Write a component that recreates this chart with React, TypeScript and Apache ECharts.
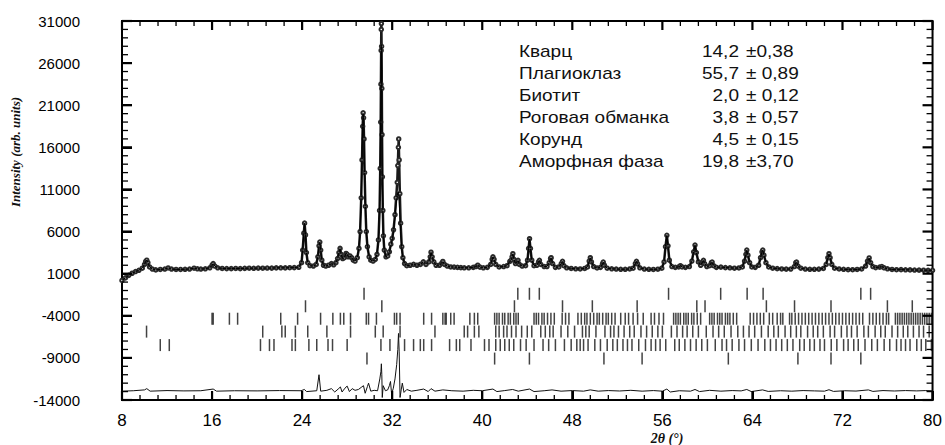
import React, { useEffect, useRef } from "react";
import * as echarts from "echarts";

// ---------- data ----------
const xTicks = [8, 16, 24, 32, 40, 48, 56, 64, 72, 80];
const yTicks = [-14000, -9000, -4000, 1000, 6000, 11000, 16000, 21000, 26000, 31000];

// observed intensity [2theta, counts]
const observed: [number, number][] = [
  [8.0, 200], [8.3, 500], [8.6, 800], [8.9, 1050], [9.2, 1250], [9.5, 1400], [9.8, 1650], [10.0, 2100], [10.1, 2450], [10.2, 2600], [10.3, 2300], [10.45, 1800],
  [10.7, 1550], [11.0, 1450], [11.4, 1500], [11.8, 1550], [12.1, 1680], [12.4, 1550], [12.8, 1500], [13.2, 1500], [13.6, 1520], [14.0, 1550], [14.4, 1650], [14.7, 1580],
  [15.0, 1550], [15.4, 1580], [15.8, 1700], [16.0, 2000], [16.1, 2200], [16.25, 1900], [16.5, 1700], [16.9, 1620], [17.3, 1600], [17.7, 1600], [18.1, 1620], [18.5, 1600],
  [18.9, 1630], [19.3, 1650], [19.7, 1640], [20.1, 1660], [20.5, 1650], [20.9, 1670], [21.3, 1660], [21.7, 1690], [22.1, 1700], [22.5, 1690], [22.9, 1710], [23.3, 1720],
  [23.7, 1760], [23.95, 2300], [24.05, 3800], [24.15, 5800], [24.22, 7000], [24.3, 5600], [24.38, 3500], [24.5, 2300], [24.7, 1950], [25.0, 1900], [25.25, 2100], [25.4, 3000],
  [25.5, 4300], [25.57, 4750], [25.65, 3800], [25.75, 2600], [25.9, 2000], [26.1, 1900], [26.35, 2000], [26.6, 2200], [26.8, 2050], [27.0, 2300], [27.15, 2800], [27.27, 3500],
  [27.37, 4000], [27.47, 3300], [27.6, 2800], [27.75, 2900], [27.9, 3400], [28.0, 3300], [28.1, 3000], [28.25, 3100], [28.4, 2900], [28.55, 2600], [28.7, 2500],
  [28.9, 2900], [29.05, 4000], [29.15, 6000], [29.25, 10000], [29.32, 14500], [29.38, 18500], [29.42, 20100], [29.46, 19500], [29.5, 17000], [29.55, 13000], [29.62, 9000],
  [29.7, 6000], [29.8, 4200], [29.95, 3000], [30.1, 2600], [30.3, 2500], [30.5, 2700], [30.65, 3300], [30.78, 5000], [30.88, 8500], [30.94, 13500], [30.98, 19000],
  [31.0, 23500], [31.02, 27500], [31.03, 30000], [31.04, 30700], [31.06, 28000], [31.08, 23000], [31.1, 17500], [31.13, 12500], [31.17, 8500], [31.22, 5500], [31.3, 3800],
  [31.45, 3000], [31.6, 3100], [31.75, 3600], [31.88, 4500], [32.0, 5200], [32.12, 6200], [32.25, 8000], [32.35, 10000], [32.45, 11850], [32.5, 13830], [32.55, 16000],
  [32.58, 17000], [32.62, 14500], [32.68, 10500], [32.75, 7000], [32.85, 4200], [32.95, 2900], [33.1, 2200],
  [33.3, 1950], [33.6, 2000], [33.9, 2100], [34.2, 2000], [34.5, 2100], [34.77, 2400], [35.0, 2100], [35.25, 2400], [35.38, 3000], [35.45, 3550], [35.55, 3000], [35.7, 2400],
  [35.9, 2000], [36.2, 2000], [36.4, 2250], [36.5, 2450], [36.65, 2100], [36.9, 1900], [37.2, 1800], [37.5, 1780], [37.8, 1750], [38.1, 1720], [38.4, 1700], [38.8, 1700],
  [39.2, 1750], [39.45, 1850], [39.6, 2000], [39.8, 1780], [40.1, 1700], [40.45, 1750], [40.75, 2100], [40.88, 2700], [40.95, 3000], [41.05, 2700], [41.2, 2100],
  [41.5, 1800], [41.9, 1850], [42.2, 1950], [42.45, 2450], [42.57, 2600], [42.65, 3000], [42.72, 3370], [42.82, 2700], [42.95, 2200], [43.1, 2450], [43.18, 2580],
  [43.3, 2100], [43.55, 1900], [43.85, 1950], [44.02, 2600], [44.12, 4000], [44.2, 5150], [44.28, 4000], [44.4, 2600], [44.6, 1950], [44.85, 2000], [45.0, 2400],
  [45.08, 2580], [45.2, 2100], [45.5, 1850], [45.75, 1850], [45.95, 2300], [46.07, 2800], [46.12, 2900], [46.25, 2200], [46.5, 1750], [46.8, 1800], [47.02, 2200],
  [47.13, 2460], [47.25, 1950], [47.5, 1700], [47.9, 1620], [48.3, 1580], [48.7, 1560], [49.1, 1620], [49.35, 1800], [49.5, 2500], [49.6, 2900], [49.7, 2400], [49.9, 1850],
  [50.2, 1680], [50.5, 1750], [50.68, 2150], [50.75, 2380], [50.85, 2000], [51.1, 1650], [51.5, 1580], [51.9, 1550], [52.3, 1520], [52.7, 1520], [53.1, 1560], [53.4, 1650],
  [53.6, 2200], [53.7, 2460], [53.8, 2150], [54.0, 1700], [54.4, 1550], [54.8, 1520], [55.2, 1500], [55.6, 1530], [55.95, 1650], [56.15, 2400], [56.28, 4200], [56.4, 5560],
  [56.5, 4300], [56.62, 2600], [56.85, 1850], [57.15, 1750], [57.45, 1800], [57.6, 1950], [57.75, 1800], [58.05, 1750], [58.4, 1850], [58.62, 2500], [58.78, 3600],
  [58.9, 4400], [59.02, 3500], [59.2, 2400], [59.4, 2000], [59.58, 2400], [59.65, 2580], [59.75, 2200], [59.95, 1850], [60.2, 1950], [60.35, 2300], [60.42, 2380],
  [60.55, 1950], [60.8, 1750], [61.2, 1780], [61.6, 1720], [62.0, 1700], [62.4, 1650], [62.8, 1680], [63.1, 1800], [63.3, 2500], [63.42, 3300], [63.5, 3800], [63.6, 3200],
  [63.75, 2300], [63.95, 1800], [64.25, 1750], [64.55, 2000], [64.72, 2900], [64.85, 3600], [64.92, 3800], [65.02, 3200], [65.2, 2300], [65.45, 1800], [65.8, 1650],
  [66.2, 1600], [66.6, 1560], [67.0, 1540], [67.4, 1550], [67.72, 1850], [67.85, 2300], [67.92, 2380], [68.05, 1900], [68.3, 1650], [68.7, 1550], [69.1, 1520],
  [69.5, 1520], [69.9, 1540], [70.3, 1620], [70.55, 2100], [70.7, 2900], [70.8, 3370], [70.9, 2900], [71.05, 2100], [71.3, 1650], [71.7, 1560], [72.1, 1520],
  [72.5, 1480], [72.9, 1470], [73.3, 1500], [73.7, 1560], [74.05, 1900], [74.22, 2500], [74.37, 2860], [74.5, 2300], [74.7, 1850], [74.95, 1720], [75.3, 1780],
  [75.5, 1850], [75.7, 1700], [76.0, 1580], [76.4, 1500], [76.8, 1470], [77.2, 1480], [77.6, 1460], [78.0, 1450], [78.4, 1430], [78.8, 1420], [79.2, 1410],
  [79.6, 1400], [80.0, 1400],
];

// calculated profile where it departs from the observed points (main peaks)
const calculatedPeaks: [number, number][] = [
  [28.9, 2950], [29.05, 4100], [29.15, 6100], [29.25, 10300], [29.32, 14500], [29.38, 18800], [29.42, 20000], [29.46, 19300], [29.5, 16800], [29.55, 13000],
  [29.62, 9000], [29.7, 6100], [29.8, 4300], [29.95, 3100], [30.1, 2600], [30.3, 2500], [30.5, 2700], [30.65, 3300], [30.78, 5200], [30.88, 9000], [30.94, 14500],
  [30.98, 20000], [31.0, 24000], [31.02, 27000], [31.03, 28200], [31.04, 27800], [31.06, 25000], [31.08, 21000], [31.1, 16500], [31.13, 12000], [31.17, 8000],
  [31.22, 5300], [31.3, 3800], [31.45, 3000], [31.6, 3100], [31.75, 3500], [31.88, 4300], [32.0, 5000], [32.12, 6000], [32.25, 7800], [32.35, 9300], [32.45, 10300],
  [32.5, 10600], [32.55, 10700], [32.58, 10500], [32.62, 9600], [32.68, 8000], [32.75, 6000], [32.85, 4000], [32.95, 2900], [33.1, 2200],
];

// difference curve (obs - calc, offset)
const difference: [number, number][] = [
  [8.0, -12950], [9.0, -12900], [10.0, -12800], [10.2, -12650], [10.5, -12950], [12.0, -12880], [13.5, -12920], [15.0, -12900], [16.1, -12700], [16.4, -12950],
  [18.0, -12900], [20.0, -12920], [22.0, -12880], [23.9, -12900], [24.2, -12750], [24.4, -13000], [25.3, -12900], [25.5, -11000], [25.65, -12950], [26.2, -12850],
  [26.6, -12650], [26.9, -13050], [27.2, -12700], [27.4, -12450], [27.55, -13050], [27.8, -12600], [28.0, -12350], [28.2, -13000], [28.45, -12650], [28.7, -12850],
  [29.0, -12750], [29.3, -12450], [29.45, -12300], [29.6, -13200], [29.8, -12400], [29.9, -12000], [30.1, -12950], [30.4, -12850], [30.7, -12900], [30.9, -11500],
  [31.0, -10600], [31.04, -9700], [31.08, -11000], [31.12, -13700], [31.2, -12300], [31.4, -12900], [31.6, -12800], [31.75, -12300], [31.85, -11800], [31.95, -13300],
  [32.1, -12600], [32.25, -11500], [32.4, -9800], [32.5, -8000], [32.56, -6100], [32.62, -8200], [32.7, -13700], [32.8, -12800], [32.9, -12000], [33.05, -13100],
  [33.3, -12750], [33.7, -12950], [34.2, -12850], [34.8, -12700], [35.2, -13000], [35.45, -12650], [35.8, -12950], [36.5, -12800], [37.3, -12900], [38.3, -12950],
  [39.2, -12850], [40.0, -12900], [40.95, -12700], [41.3, -13000], [42.0, -12880], [42.7, -12750], [43.2, -12950], [44.2, -12700], [44.6, -13000], [45.5, -12900],
  [46.2, -12800], [47.0, -12950], [48.0, -12880], [49.0, -12950], [49.6, -12800], [50.3, -12950], [51.2, -12880], [52.2, -12930], [53.2, -12850], [54.2, -12950],
  [55.2, -12880], [56.0, -12950], [56.4, -12700], [56.7, -13050], [57.5, -12900], [58.5, -12950], [58.9, -12750], [59.3, -13000], [60.2, -12850], [61.2, -12950],
  [62.2, -12880], [63.0, -12920], [63.5, -12750], [63.9, -13000], [64.9, -12800], [65.4, -12980], [66.5, -12900], [67.5, -12950], [68.5, -12880], [69.5, -12920],
  [70.4, -12950], [70.8, -12780], [71.2, -12980], [72.2, -12900], [73.2, -12940], [74.3, -12800], [74.7, -12980], [75.6, -12880], [76.6, -12930], [77.6, -12880],
  [78.6, -12920], [79.4, -12880], [80.0, -12900],
];

// Bragg reflection positions, one list per row (top to bottom)
const braggRow1 = [29.5, 43.16, 44.19, 45.07, 56.55, 61.18, 63.53, 64.95, 73.63, 74.5];
const braggRow2 = [24.3, 31.08, 42.86, 47.13, 49.78, 53.76, 59.06, 59.79, 65.24, 67.74, 70.98, 75.99, 78.2];
const braggRow3 = [
  16.0, 16.1, 17.54, 18.27, 22.1, 23.6, 25.64, 26.73, 27.4, 27.7, 28.3, 29.7, 29.9, 30.6, 32.2, 32.4, 32.7, 34.8, 35.5, 36.5, 36.7, 36.8, 37.2, 37.5,
  38.9, 39.3, 39.6, 41.1, 41.3, 41.5, 41.8, 42.0, 42.3, 42.5, 42.8, 43.0, 43.2, 44.6, 44.8, 45.0, 45.3, 45.5, 45.8, 46.1, 46.4, 47.1, 47.4, 47.7,
  48.5, 48.8, 49.1, 49.3, 49.6, 49.9, 50.2, 50.4, 50.7, 51.0, 51.2, 51.5, 51.8, 52.3, 52.7, 53.0, 53.4, 53.8, 54.3, 55.0, 55.3, 55.7, 56.1,
  57.0, 57.2, 57.4, 57.6, 57.9, 58.1, 58.3, 58.6, 58.8, 59.1, 59.4, 60.2, 60.4, 60.6, 60.9, 61.1, 61.3, 61.6, 61.8, 62.0, 62.3, 62.6,
  63.8, 64.1, 64.4, 64.7, 65.0, 65.5, 65.8, 66.2, 66.5, 66.7, 67.3, 67.5, 67.8, 68.1, 68.4, 68.7, 69.0, 69.3, 69.6, 69.9, 70.2, 70.5, 70.8,
  71.1, 71.4, 71.7, 72.0, 72.3, 72.6, 72.9, 73.2, 73.5, 73.8, 74.4, 74.7, 75.0, 75.3, 75.6, 75.9, 76.1, 76.7, 76.9, 77.1, 77.3, 77.5, 77.7,
  77.9, 78.1, 78.3, 78.5, 78.7, 78.9, 79.1, 79.3, 79.5, 79.7, 79.9,
];
const braggRow4 = [
  10.18, 20.5, 22.2, 22.5, 23.4, 24.5, 26.2, 28.3, 30.5, 31.2, 32.7, 35.8, 38.4, 38.7, 39.3, 39.7, 41.2, 41.5, 41.9, 42.2, 42.6, 43.0,
  43.5, 44.0, 44.4, 45.2, 45.6, 46.0, 46.3, 47.0, 47.6, 48.2, 48.9, 49.2, 49.5, 50.1, 50.9, 51.4, 51.7, 52.1, 52.6, 53.1, 53.5, 54.1,
  54.6, 55.1, 55.6, 56.0, 56.8, 57.3, 57.8, 58.2, 58.7, 59.2, 59.9, 60.5, 61.0, 61.5, 62.1, 62.7, 63.2, 63.7, 64.2, 64.8, 65.4, 65.9,
  66.3, 66.9, 67.4, 67.9, 68.3, 68.9, 69.4, 69.8, 70.3, 70.9, 71.3, 71.9, 72.4, 72.8, 73.3, 73.9, 74.3, 74.9, 75.4, 75.8, 76.4, 76.9,
  77.4, 77.8, 78.3, 78.8, 79.2, 79.7,
];
const braggRow5 = [
  11.4, 12.2, 20.3, 21.1, 21.5, 23.1, 23.4, 24.6, 25.3, 26.3, 26.7, 28.0, 31.0, 31.8, 33.1, 33.9, 34.5, 34.8, 35.5, 37.1, 37.7, 38.0, 39.0,
  40.2, 40.6, 41.2, 41.6, 42.0, 42.4, 42.8, 43.4, 43.9, 44.6, 45.4, 45.9, 46.5, 47.3, 47.9, 48.4, 48.7, 49.0, 49.4, 50.0, 50.5, 51.1, 51.6,
  52.0, 52.5, 52.9, 53.3, 53.9, 54.5, 55.0, 55.4, 55.8, 56.3, 57.1, 57.5, 58.0, 58.5, 59.0, 59.5, 60.0, 60.7, 61.3, 61.7, 62.2, 62.8,
  63.3, 63.9, 64.5, 65.1, 65.6, 66.1, 66.6, 67.1, 67.6, 68.2, 68.6, 69.1, 69.5, 70.0, 70.4, 71.0, 71.5, 72.1, 72.5, 73.0, 73.4, 74.0,
  74.6, 75.1, 75.7, 76.2, 76.8, 77.2, 77.6, 78.0, 78.6, 79.0, 79.4, 79.9,
];
const braggRow6 = [29.76, 41.1, 44.19, 50.81, 54.2, 61.86, 68.04, 70.98, 73.63];
const braggRowLevels = [-1390, -2870, -4350, -5880, -7480, -9080];

// phase contents table
const phaseNames = ["Кварц", "Плагиоклаз", "Биотит", "Роговая обманка", "Корунд", "Аморфная фаза"];
const phaseContent = ["14,2", "55,7", "2,0", "3,8", "4,5", "19,8"];
const phaseError = ["±0,38", "± 0,89", "± 0,12", "± 0,57", "± 0,15", "±3,70"];

export default function App() {
  const ref = useRef<HTMLDivElement>(null);
  useEffect(() => {
    if (!ref.current) return;
    const chart = echarts.init(ref.current, null, { renderer: "svg" });

    const inRegion = (x: number) => x >= 28.85 && x <= 33.15;
    const calculated = [
      ...observed.filter((p) => !inRegion(p[0])),
      ...calculatedPeaks,
    ].sort((a, b) => a[0] - b[0]);

    const braggRows = [braggRow1, braggRow2, braggRow3, braggRow4, braggRow5, braggRow6];
    const braggSeries = braggRows.map((row, i) => ({
      type: "scatter",
      symbol: "rect",
      symbolSize: [1.5, 12],
      silent: true,
      itemStyle: { color: "#141414" },
      data: row.map((x) => [x, braggRowLevels[i]]),
      z: 2,
    }));

    const xMin = xTicks[0], xMax = xTicks[xTicks.length - 1];
    const yMin = yTicks[0], yMax = yTicks[yTicks.length - 1];

    // frame ticks: [x, y, side(0 bottom,1 top,2 left,3 right), length, width]
    const frameTicks: number[][] = [];
    for (let i = 0; i < xTicks.length; i++) {
      frameTicks.push([xTicks[i], yMin, 0, 9, 2.2], [xTicks[i], yMax, 1, 9, 2.2]);
      if (i < xTicks.length - 1) {
        for (let k = 1; k < 5; k++) {
          const x = xTicks[i] + (k * 8) / 5;
          frameTicks.push([x, yMin, 0, 5, 1.3], [x, yMax, 1, 5, 1.3]);
        }
      }
    }
    for (let i = 0; i < yTicks.length; i++) {
      frameTicks.push([xMin, yTicks[i], 2, 10, 2.2], [xMax, yTicks[i], 3, 10, 2.2]);
      if (i < yTicks.length - 1) {
        for (let k = 1; k < 5; k++) {
          const y = yTicks[i] + k * 1000;
          frameTicks.push([xMin, y, 2, 6, 1.3], [xMax, y, 3, 6, 1.3]);
        }
      }
    }

    const font = "'Liberation Sans', Arial, sans-serif";
    const serif = "'Liberation Serif', 'Times New Roman', serif";

    const lineH = 22;
    const graphics: any[] = [];
    phaseNames.forEach((n, i) => {
      const y = 51 + i * lineH;
      graphics.push({
        type: "text", x: 519, y, scaleX: 1.12,
        style: { text: n, font: `17px ${font}`, fill: "#111", textVerticalAlign: "middle", textAlign: "left" },
      });
      graphics.push({
        type: "text", x: 739, y, scaleX: 1.12,
        style: { text: phaseContent[i], font: `17px ${font}`, fill: "#111", textVerticalAlign: "middle", textAlign: "right" },
      });
      graphics.push({
        type: "text", x: 746, y, scaleX: 1.12,
        style: { text: phaseError[i], font: `17px ${font}`, fill: "#111", textVerticalAlign: "middle", textAlign: "left" },
      });
    });
    graphics.push({
      type: "text", x: 667, y: 438,
      style: { text: "2θ (°)", font: `italic bold 14px ${serif}`, fill: "#111", textAlign: "center", textVerticalAlign: "middle" },
    });
    graphics.push({
      type: "text", x: 15, y: 152, rotation: Math.PI / 2,
      style: { text: "Intensity (arb. units)", font: `italic bold 13px ${serif}`, fill: "#111", textAlign: "center", textVerticalAlign: "middle" },
    });

    chart.setOption({
      animation: false,
      grid: {
        left: 122, right: 8, top: 21, bottom: 45, containLabel: false,
        show: true, borderColor: "#000", borderWidth: 2, backgroundColor: "transparent",
      },
      xAxis: {
        type: "value", min: xMin, max: xMax, interval: 8,
        axisLine: { show: true, onZero: false, lineStyle: { color: "#000", width: 2 } },
        axisTick: { show: true, inside: true, length: 9, lineStyle: { color: "#000", width: 2 } },
        splitLine: { show: false },
        axisLabel: { color: "#000", fontSize: 17, fontFamily: font, margin: 12 },
      },
      yAxis: {
        type: "value", min: yMin, max: yMax, interval: 5000,
        axisLine: { show: true, onZero: false, lineStyle: { color: "#000", width: 2 } },
        axisTick: { show: true, inside: true, length: 10, lineStyle: { color: "#000", width: 2 } },
        splitLine: { show: false },
        axisLabel: { color: "#000", fontSize: 15, fontFamily: font, margin: 42, align: "right", formatter: (v: number) => String(v) },
      },
      series: [
        {
          type: "line", name: "observed", data: observed,
          symbol: "emptyCircle", symbolSize: 3.5, showSymbol: true,
          itemStyle: { color: "#2a2a2a", borderWidth: 1 },
          lineStyle: { color: "#1a1a1a", width: 2.5 },
          silent: true, z: 3,
        },
        {
          type: "line", name: "calculated", data: calculated, symbol: "none",
          lineStyle: { color: "#000", width: 1 }, silent: true, z: 4,
        },
        {
          type: "line", name: "difference", data: difference, symbol: "none",
          lineStyle: { color: "#111", width: 1 }, silent: true, z: 3,
        },
        ...braggSeries,
        {
          type: "custom",
          name: "frameTicks",
          silent: true,
          clip: false,
          z: 10,
          data: frameTicks,
          encode: { x: 0, y: 1 },
          renderItem: (_params: any, api: any) => {
            const p = api.coord([api.value(0), api.value(1)]);
            const side = api.value(2);
            const len = api.value(3);
            let x2 = p[0], y2 = p[1];
            if (side === 0) y2 = p[1] - len;
            else if (side === 1) y2 = p[1] + len;
            else if (side === 2) x2 = p[0] + len;
            else x2 = p[0] - len;
            return {
              type: "line",
              shape: { x1: p[0], y1: p[1], x2, y2 },
              style: { stroke: "#000", lineWidth: api.value(4) },
            };
          },
        },
      ],
      graphic: graphics,
    } as any);
    return () => chart.dispose();
  }, []);
  return <div ref={ref} style={{ width: 945, height: 445, position: "absolute", left: 0, top: 0 }} />;
}
